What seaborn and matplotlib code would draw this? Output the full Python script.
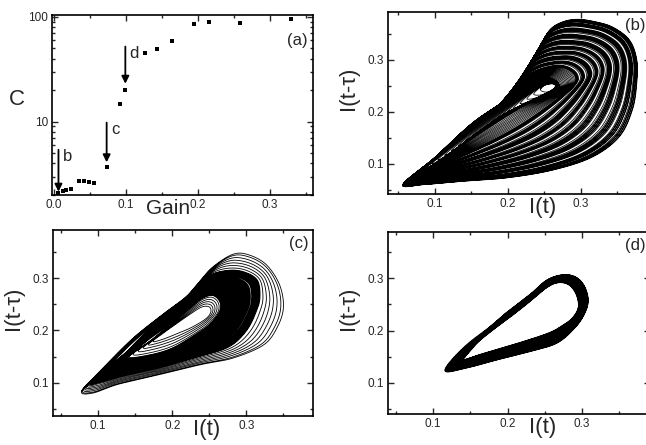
import numpy as np
import matplotlib
matplotlib.use("Agg")
import matplotlib.pyplot as plt
import seaborn as sns
from matplotlib.ticker import MultipleLocator, FixedLocator, NullFormatter

sns.set_style("ticks")
plt.rcParams["font.family"] = ["Liberation Sans", "DejaVu Sans"]

# ---------------- panel (a) data ----------------
gain = [0.006, 0.012, 0.016, 0.023, 0.035, 0.042, 0.049, 0.055,
        0.073, 0.091, 0.099, 0.127, 0.143, 0.164, 0.195, 0.216, 0.258, 0.33]
c_val = [2.1, 2.2, 2.25, 2.3, 2.7, 2.7, 2.65, 2.6,
         3.7, 14.6, 20, 45, 49, 59, 84.5, 90, 88, 95]
arrow_names = ["b", "c", "d"]
arrow_gain = [0.006, 0.073, 0.099]
arrow_from = [5.4, 9.8, 52]
arrow_to = [2.15, 4.1, 23]

# ---------------- attractor outlines, I(t) vs I(t-tau) ----------------
# (b): small core loop, thin loop hugging the upper edge, outer boundary
b_core = [(0.245, 0.243), (0.255, 0.255), (0.265, 0.252), (0.262, 0.242),
          (0.252, 0.238)]
b_inner = [(0.09, 0.095), (0.15, 0.166), (0.2, 0.223), (0.235, 0.258),
           (0.255, 0.266), (0.27, 0.255), (0.262, 0.238), (0.2, 0.2),
           (0.15, 0.152), (0.11, 0.11)]
b_outer = [(0.056, 0.06), (0.1, 0.112), (0.152, 0.179), (0.203, 0.229),
           (0.22, 0.258), (0.234, 0.294), (0.244, 0.325), (0.258, 0.358),
           (0.275, 0.373), (0.295, 0.378), (0.318, 0.374), (0.344, 0.363),
           (0.367, 0.338), (0.377, 0.3), (0.377, 0.256), (0.371, 0.204),
           (0.353, 0.152), (0.316, 0.113), (0.262, 0.088), (0.199, 0.073),
           (0.134, 0.066), (0.085, 0.06)]
# levels between thin loop (0) and outer boundary (1)
b_levels = [1.0, 0.985, 0.995, 0.97, 0.98, 0.955, 0.965, 0.94, 0.925, 0.935,
            0.91, 0.92, 0.895, 0.905, 0.86, 0.87, 0.845, 0.855, 0.83, 0.84,
            0.815, 0.825, 0.80, 0.765, 0.775, 0.75, 0.76, 0.735, 0.745, 0.72,
            0.73, 0.705, 0.67, 0.68, 0.655, 0.665, 0.64, 0.65, 0.625, 0.635,
            0.61, 0.575, 0.585, 0.56, 0.57, 0.545, 0.555, 0.53, 0.495, 0.505,
            0.48, 0.49, 0.465, 0.475, 0.45, 0.415, 0.425, 0.40, 0.41, 0.385,
            0.395, 0.37, 0.38, 0.355, 0.32, 0.33, 0.305, 0.315, 0.29, 0.30,
            0.275, 0.24, 0.25, 0.225, 0.235, 0.21, 0.22, 0.195, 0.18, 0.165,
            0.15, 0.135, 0.12, 0.105, 0.09, 0.075, 0.06, 0.045, 0.03, 0.015,
            0.0]
# levels between core loop (0) and thin loop (1)
b_core_levels = [0.95, 0.9, 0.84, 0.78, 0.72, 0.66, 0.6, 0.54, 0.48, 0.42,
                 0.36, 0.3, 0.24, 0.18, 0.12, 0.06, 0.0]

# (c): hole, inner edge of black band, outer edge of band, outermost loop
c_hole = [(0.175, 0.18), (0.2, 0.207), (0.225, 0.232), (0.24, 0.245),
          (0.25, 0.245), (0.252, 0.235), (0.245, 0.222), (0.225, 0.205),
          (0.2, 0.19), (0.185, 0.182)]
c_band_in = [(0.14, 0.148), (0.17, 0.18), (0.2, 0.215), (0.225, 0.245),
             (0.24, 0.262), (0.255, 0.268), (0.265, 0.255), (0.264, 0.235),
             (0.25, 0.21), (0.23, 0.19), (0.2, 0.165), (0.17, 0.152)]
c_band_out = [(0.09, 0.1), (0.12, 0.14), (0.15, 0.182), (0.19, 0.228),
              (0.22, 0.26), (0.24, 0.29), (0.255, 0.308), (0.28, 0.315),
              (0.3, 0.31), (0.315, 0.295), (0.318, 0.265), (0.314, 0.24),
              (0.3, 0.2), (0.275, 0.168), (0.23, 0.148), (0.18, 0.128),
              (0.13, 0.112), (0.1, 0.1)]
c_outer = [(0.0775, 0.083), (0.102, 0.121), (0.147, 0.185), (0.192, 0.236),
           (0.219, 0.265), (0.237, 0.294), (0.255, 0.322), (0.282, 0.346),
           (0.303, 0.345), (0.327, 0.326), (0.345, 0.287), (0.35, 0.243),
           (0.341, 0.204), (0.323, 0.172), (0.282, 0.147), (0.237, 0.134),
           (0.17, 0.111), (0.125, 0.096), (0.093, 0.08)]
c_inner_levels = [0.0, 0.2, 0.4, 0.6, 0.8, 0.95]
c_band_levels = [1.0, 1.5, 1.1, 1.8, 1.3, 1.65, 1.05, 1.9, 1.45, 1.2, 1.75,
                 1.35, 1.95, 1.55, 1.15, 1.7, 1.25, 1.85, 1.4, 1.6, 1.08,
                 1.98, 1.52, 1.28, 1.72, 1.38, 1.88, 1.18, 1.62, 1.48, 1.02,
                 1.82, 1.32, 1.58, 1.12, 1.92, 1.42, 1.68, 1.22, 2.0]
c_outer_levels = [2.15, 2.3, 2.45, 2.6, 2.75, 2.9, 3.0]

# (d): hole and outer edge of the band
d_inner = [(0.141, 0.144), (0.15, 0.157), (0.186, 0.205), (0.23, 0.256),
           (0.253, 0.283), (0.268, 0.292), (0.282, 0.288), (0.292, 0.27),
           (0.295, 0.245), (0.287, 0.224), (0.272, 0.208), (0.253, 0.194),
           (0.208, 0.173), (0.163, 0.154)]
d_outer = [(0.116, 0.124), (0.141, 0.17), (0.186, 0.221), (0.23, 0.269),
           (0.253, 0.297), (0.275, 0.307), (0.292, 0.302), (0.303, 0.285),
           (0.308, 0.258), (0.303, 0.232), (0.29, 0.205), (0.266, 0.176),
           (0.23, 0.16), (0.186, 0.144), (0.141, 0.127)]
d_levels = [0.0, 0.5, 0.1, 0.9, 0.3, 0.7, 1.0, 0.2, 0.6, 0.4, 0.8, 0.05,
            0.55, 0.95, 0.35, 0.65, 0.15, 0.75, 0.45, 0.85, 0.25, 0.98,
            0.02, 0.52, 0.88, 0.32, 0.68, 0.12, 0.78, 0.42]


def closed_curve(pts, n=800):
    # smooth closed curve through the outline points, starting at the
    # lower-left tip, counter-clockwise, resampled by arc length
    p = np.asarray(pts, float)
    area = np.sum(p[:, 0] * np.roll(p[:, 1], -1) - np.roll(p[:, 0], -1) * p[:, 1])
    if area < 0:
        p = p[::-1]
    p = np.roll(p, -np.argmin(p.sum(axis=1)), axis=0)
    P0, P1, P2, P3 = np.roll(p, 1, 0), p, np.roll(p, -1, 0), np.roll(p, -2, 0)
    s = np.linspace(0, 1, 30, endpoint=False)[:, None, None]
    seg = 0.5 * (2 * P1 + (P2 - P0) * s + (2 * P0 - 5 * P1 + 4 * P2 - P3) * s ** 2
                 + (3 * P1 - P0 - 3 * P2 + P3) * s ** 3)
    c = seg.transpose(1, 0, 2).reshape(-1, 2)
    c2 = np.vstack([c, c[:1]])
    d = np.r_[0, np.cumsum(np.hypot(*np.diff(c2, axis=0).T))]
    u = np.linspace(0, d[-1], n, endpoint=False)
    return np.column_stack([np.interp(u, d, c2[:, 0]), np.interp(u, d, c2[:, 1])])


def trajectory(outlines, levels, drift_start=0.75, n=800):
    # one loop per level; the level drifts to the next one from drift_start on
    C = np.array([closed_curve(o, n) for o in outlines])
    ph = np.arange(n) / n
    w = np.clip((ph - drift_start) / (1 - drift_start), 0, 1)
    cols = np.arange(n)
    xs, ys = [], []
    for k in range(len(levels)):
        t0 = levels[k]
        t1 = levels[k + 1] if k + 1 < len(levels) else levels[k]
        t = t0 + (t1 - t0) * w
        i = np.clip(np.floor(t).astype(int), 0, len(outlines) - 2)
        f = (t - i)[:, None]
        pts = C[i, cols] * (1 - f) + C[i + 1, cols] * f
        xs.append(pts[:, 0])
        ys.append(pts[:, 1])
    return np.concatenate(xs), np.concatenate(ys)


W, H = 646, 445
fig = plt.figure(figsize=(W / 100, H / 100), dpi=100)
ax_a = fig.add_axes([52 / W, 1 - 195 / H, 261 / W, 180 / H])
ax_b = fig.add_axes([388 / W, 1 - 194 / H, 262 / W, 182 / H])
ax_c = fig.add_axes([53 / W, 1 - 416 / H, 260 / W, 186 / H])
ax_d = fig.add_axes([388 / W, 1 - 414 / H, 262 / W, 182 / H])

TICK = 8.5

# ---------------- (a) ----------------
sns.scatterplot(x=gain, y=c_val, ax=ax_a, marker="s", s=11, color="black",
                edgecolor="black", linewidth=0)
ax_a.set_yscale("log")
ax_a.set_xlim(-0.003, 0.36)
ax_a.set_ylim(2.0, 104)
ax_a.xaxis.set_major_locator(FixedLocator([0.0, 0.1, 0.2, 0.3]))
ax_a.xaxis.set_minor_locator(MultipleLocator(0.05))
ax_a.set_xticklabels(["0.0", "0.1", "0.2", "0.3"])
ax_a.yaxis.set_major_locator(FixedLocator([10, 100]))
ax_a.set_yticklabels(["10", "100"])
ax_a.yaxis.set_minor_locator(FixedLocator([2, 3, 4, 5, 6, 7, 8, 9,
                                           20, 30, 40, 50, 60, 70, 80, 90]))
ax_a.yaxis.set_minor_formatter(NullFormatter())
for name, gx, y0, y1 in zip(arrow_names, arrow_gain, arrow_from, arrow_to):
    ax_a.annotate("", xy=(gx, y1), xytext=(gx, y0),
                  arrowprops=dict(arrowstyle="-|>", color="black", lw=1.3,
                                  mutation_scale=11, shrinkA=0, shrinkB=0))
    ax_a.text(gx + 0.006, y0 * 1.02, name, fontsize=12, ha="left", va="top")
ax_a.text(0.94, 0.86, "(a)", transform=ax_a.transAxes, fontsize=12,
          ha="center", va="center")
ax_a.set_xlabel("Gain", fontsize=15)
ax_a.xaxis.set_label_coords(0.445, -0.02)
ax_a.set_ylabel("C", fontsize=16, rotation=0, va="center")
ax_a.yaxis.set_label_coords(-0.134, 0.53)

# ---------------- (b), (c), (d) ----------------
b_outlines = [b_core, b_inner, b_outer]
b_all_levels = [1 + v for v in b_levels] + b_core_levels
c_outlines = [c_hole, c_band_in, c_band_out, c_outer]
panels = [
    (ax_b, [(b_outlines, b_all_levels, 0.55, 0.6)], "(b)",
     (0.036, 0.395), (0.042, 0.392)),
    (ax_c, [(c_outlines, c_inner_levels, 0.6, 0.75),
            (c_outlines, c_band_levels, 1.1, 0.75),
            (c_outlines, c_outer_levels, 0.6, 0.75)], "(c)",
     (0.039, 0.39), (0.036, 0.3925)),
    (ax_d, [([d_inner, d_outer], d_levels, 0.8, 0.75)], "(d)",
     (0.0396, 0.391), (0.04, 0.389)),
]
for ax, parts, tag, xl, yl in panels:
    for outlines, levels, lw, start in parts:
        x, y = trajectory(outlines, levels, drift_start=start)
        sns.lineplot(x=x, y=y, ax=ax, sort=False, estimator=None,
                     color="black", lw=lw)
    ax.set_xlim(*xl)
    ax.set_ylim(*yl)
    ax.xaxis.set_major_locator(FixedLocator([0.1, 0.2, 0.3]))
    ax.yaxis.set_major_locator(FixedLocator([0.1, 0.2, 0.3]))
    ax.xaxis.set_minor_locator(MultipleLocator(0.05))
    ax.yaxis.set_minor_locator(MultipleLocator(0.05))
    ax.set_xticklabels(["0.1", "0.2", "0.3"])
    ax.set_yticklabels(["0.1", "0.2", "0.3"])
    ax.text(0.945, 0.925, tag, transform=ax.transAxes, fontsize=12,
            ha="center", va="center")
    ax.set_xlabel("I(t)", fontsize=16)
    ax.xaxis.set_label_coords(0.59, -0.015)
    ax.set_ylabel("I(t-\u03c4)", fontsize=16)
    ax.yaxis.set_label_coords(-0.11, 0.58)

for ax in [ax_a, ax_b, ax_c, ax_d]:
    ax.tick_params(which="both", direction="in", top=True, right=True,
                   labelsize=TICK, pad=3, width=1.0)
    ax.tick_params(which="major", length=4)
    ax.tick_params(which="minor", length=2.5)
    for sp in ax.spines.values():
        sp.set_linewidth(1.2)
        sp.set_color("black")

fig.savefig("out.png", dpi=100)
